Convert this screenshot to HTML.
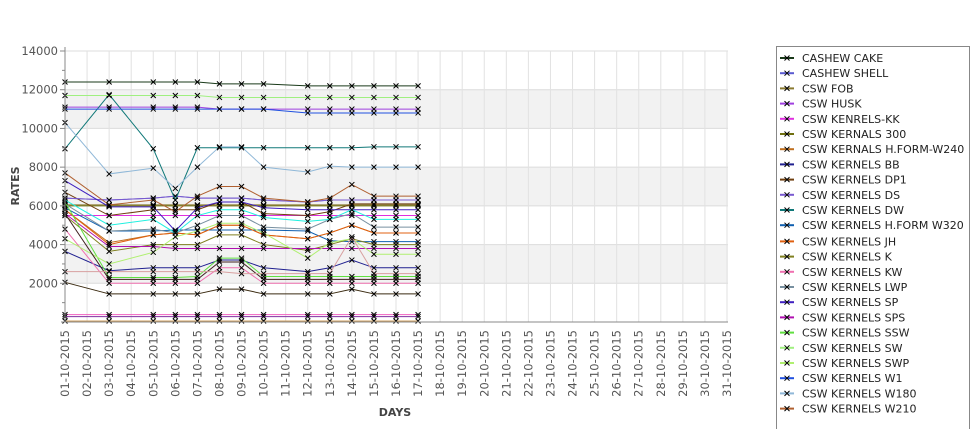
<!DOCTYPE html>
<html><head><meta charset="utf-8"><style>
body{margin:0;background:#fff;font-family:"Liberation Sans","DejaVu Sans",sans-serif;}
svg text{font-family:"DejaVu Sans","Liberation Sans",sans-serif;}
</style></head><body>
<svg id="chart" width="975" height="429" viewBox="0 0 975 429" xmlns="http://www.w3.org/2000/svg">
<g id="bands"></g>
<g id="grid"></g>
<g id="series"></g>
<g id="axes"></g>
<text x="19" y="186" transform="rotate(-90 19 186)" text-anchor="middle" font-size="11" font-weight="bold" fill="#444">RATES</text>
<text x="395" y="416" text-anchor="middle" font-size="11" font-weight="bold" fill="#444">DAYS</text>
<g id="legend"></g>
</svg>
<script>
const categories=[];for(let d=1;d<=31;d++)categories.push((d<10?'0':'')+d+'-10-2015');
const dataDays=[1,3,5,6,7,8,9,10,12,13,14,15,16,17];
const yTicks=[2000,4000,6000,8000,10000,12000,14000];
const seriesNames=["CASHEW CAKE","CASHEW SHELL","CSW FOB","CSW HUSK","CSW KENRELS-KK","CSW KERNALS 300","CSW KERNALS H.FORM-W240","CSW KERNELS BB","CSW KERNELS DP1","CSW KERNELS DS","CSW KERNELS DW","CSW KERNELS H.FORM W320","CSW KERNELS JH","CSW KERNELS K","CSW KERNELS KW","CSW KERNELS LWP","CSW KERNELS SP","CSW KERNELS SPS","CSW KERNELS SSW","CSW KERNELS SW","CSW KERNELS SWP","CSW KERNELS W1","CSW KERNELS W180","CSW KERNELS W210","CSW KERNELS W240","LOW A","LOW B","LOW C","LOW D"];
const seriesColors=["#1a3a1a","#5a5ad0","#8a7a30","#a040e0","#e030e0","#707010","#c07020","#202090","#704010","#7a5ad0","#107878","#1060b0","#e06010","#808020","#f070b0","#7890a0","#4020c0","#b010b0","#60e040","#a0f080","#b0f070","#2050e0","#90b8d8","#b06030","#402020","#3a2a10","#f060c0","#d0a060","#8030a0"];
const seriesValues=[
[12400,12400,12400,12400,12400,12300,12300,12300,12200,12200,12200,12200,12200,12200],
[6400,6300,6400,6500,6400,6400,6400,6300,6200,6300,6300,6300,6300,6300],
[6050,6050,6050,6050,6050,6050,6050,6050,6050,6050,6050,6050,6050,6050],
[11100,11100,11100,11100,11100,11000,11000,11000,11000,11000,11000,11000,11000,11000],
[5500,5500,5500,5500,5500,5500,5500,5500,5500,5500,5500,5500,5500,5500],
[6000,6000,6000,6000,6000,6000,6000,6000,6000,6000,6000,6000,6000,6000],
[5800,4100,4500,4600,4500,5000,5000,4500,4300,4600,5000,4600,4600,4600],
[3650,2650,2800,2800,2800,3200,3200,2800,2600,2800,3200,2800,2800,2800],
[6700,5500,5800,5800,5800,6200,6200,5600,5500,5700,6100,6100,6100,6100],
[6400,6300,6400,6500,6400,6400,6400,6300,6200,6300,6300,6300,6300,6300],
[8950,11750,8950,6300,9000,9000,9000,9000,9000,9000,9000,9050,9050,9050],
[5900,4700,4700,4750,4750,4750,4750,4750,4700,4200,4150,4150,4150,4150],
[5800,4000,4500,4600,4500,5000,5000,4500,4300,4600,5000,4600,4600,4600],
[5500,3650,4000,4000,4000,4500,4500,4000,3700,4000,4300,4000,4000,4000],
[4800,2000,2000,2000,2000,2800,2800,2000,2000,2000,2000,2000,2000,2000],
[6100,4700,4800,4600,5000,5500,5500,4900,4800,5300,5600,4900,4900,4900],
[7300,5950,5950,4700,5900,6200,6200,5900,5800,5800,5800,5800,5800,5800],
[5600,3900,3900,3800,3800,3800,3800,3800,3800,3800,3800,3800,3800,3800],
[6200,2300,2300,2300,2350,3300,3300,2350,2350,2350,2350,2350,2350,2350],
[11700,11700,11700,11700,11700,11600,11600,11600,11600,11600,11600,11600,11600,11600],
[4300,3000,3600,4400,4700,5100,5100,4600,3300,4100,4300,3500,3500,3500],
[11000,11000,11000,11000,11000,11000,11000,11000,10800,10800,10800,10800,10800,10800],
[10300,7650,7950,6900,8000,9050,9050,8000,7750,8050,8000,8000,8000,8000],
[7700,6050,6300,5700,6500,7000,7000,6400,6200,6400,7100,6500,6500,6500],
[5600,2200,2200,2200,2200,3100,3100,2200,2200,2200,2200,2200,2200,2200],
[2050,1450,1450,1450,1450,1700,1700,1450,1450,1450,1700,1450,1450,1450],
[380,380,380,380,380,380,380,380,380,380,380,380,380,380],
[50,50,50,50,50,50,50,50,50,50,50,50,50,50],
[280,280,280,280,280,280,280,280,280,280,280,280,280,280]];
const cyanValues=[6300,5000,5300,4600,5500,5800,5800,5400,5200,5300,5800,5300,5300,5300];
const tanValues=[2600,2600,2600,2600,2600,2600,2500,2500,2500,2500,4400,2500,2500,2500];

const NS="http://www.w3.org/2000/svg";
const X0=65,X1=728,Y0=322,YT=51,YMAX=14000;
const xs=d=>X0+(d-1)*(X1-X0-1)/30;
const ys=v=>Y0-v/YMAX*(Y0-YT);
function mk(tag,attrs,parent){const e=document.createElementNS(NS,tag);for(const k in attrs)e.setAttribute(k,attrs[k]);parent.appendChild(e);return e;}
const bands=document.getElementById('bands'),grid=document.getElementById('grid'),ser=document.getElementById('series'),axes=document.getElementById('axes'),leg=document.getElementById('legend');
mk('rect',{x:X0,y:YT,width:X1-X0,height:Y0-YT,fill:'#fff'},bands);
[[2000,4000],[6000,8000],[10000,12000]].forEach(b=>{const r=mk('rect',{x:X0,y:ys(b[1]),width:X1-X0,height:ys(b[0])-ys(b[1]),fill:'#f2f2f2'},bands);

});
yTicks.forEach(v=>{const l=mk('line',{x1:X0,x2:X1,y1:ys(v),y2:ys(v),stroke:'#dcdcdc','stroke-width':1},grid);


mk('line',{x1:X0-5,x2:X0,y1:ys(v),y2:ys(v),stroke:'#888'},axes);
mk('line',{x1:X0-3,x2:X0,y1:ys(v-1000),y2:ys(v-1000),stroke:'#888'},axes);
const t=mk('text',{x:X0-7,y:ys(v)+4,'text-anchor':'end','font-size':11.5,fill:'#555'},axes);t.textContent=v;

});
categories.forEach((c,i)=>{const x=xs(i+1);
const l=mk('line',{x1:x,x2:x,y1:YT,y2:Y0,stroke:'#e2e2e2'},grid);


const t=mk('text',{x:x+4,y:330,transform:`rotate(-90 ${x+4} 330)`,'text-anchor':'end','font-size':11.5,fill:'#555'},axes);t.textContent=c;

});
mk('line',{x1:X0,x2:X0,y1:YT-4,y2:Y0,stroke:'#888'},axes);
mk('line',{x1:X0-4,x2:X1,y1:Y0,y2:Y0,stroke:'#888'},axes);
function drawSeries(vals,col,name){const g=mk('g',{},ser);


mk('polyline',{points:vals.map((v,i)=>xs(dataDays[i])+','+ys(v)).join(' '),fill:'none',stroke:col,'stroke-width':1},g);
vals.forEach((v,i)=>{const x=xs(dataDays[i]),y=ys(v);mk('path',{d:`M${x-2.5},${y-2.5}L${x+2.5},${y+2.5}M${x-2.5},${y+2.5}L${x+2.5},${y-2.5}`,stroke:'#000','stroke-width':1},g);});}
seriesValues.forEach((vals,i)=>drawSeries(vals,seriesColors[i],seriesNames[i]));
drawSeries(cyanValues,'#20f0e0','cyan-extra');
drawSeries(tanValues,'#d8a0a0','tan-extra');
mk('rect',{x:776.5,y:46.5,width:193,height:400,fill:'#fff',stroke:'#888'},leg);
seriesNames.slice(0,24).forEach((n,i)=>{const y=58+i*15.2+(i>=12?1:0);
const g=mk('g',{},leg);


mk('line',{x1:780,x2:794,y1:y,y2:y,stroke:seriesColors[i],'stroke-width':2},g);
mk('path',{d:`M784.5,${y-2.5}L789.5,${y+2.5}M784.5,${y+2.5}L789.5,${y-2.5}`,stroke:'#000'},g);
const t=mk('text',{x:802,y:y+4,'font-size':11,fill:'#222'},g);t.textContent=n;});
</script>
</body></html>
